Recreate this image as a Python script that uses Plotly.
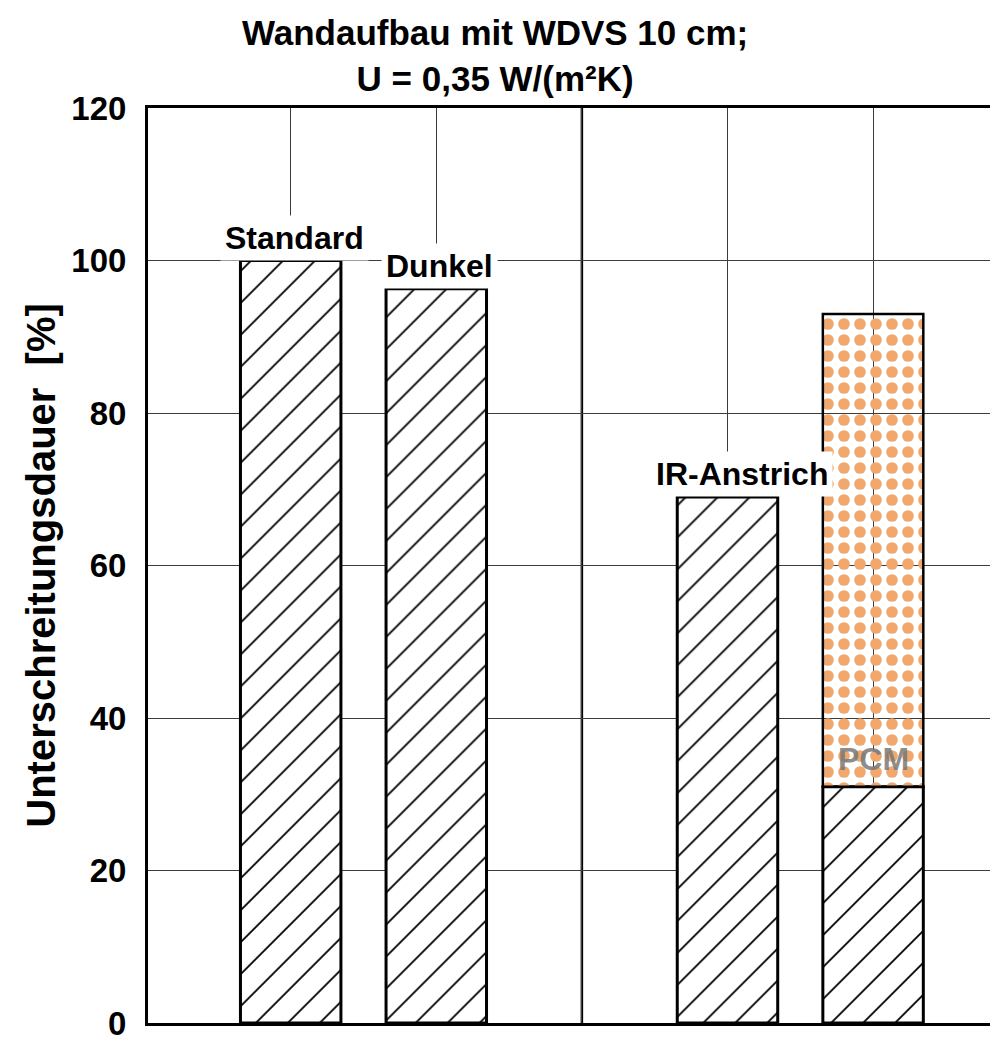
import plotly.graph_objects as go

# Kategorien (die leere Kategorie trennt die beiden Gruppen)
categories = ["Standard", "Dunkel", " ", "IR-Anstrich", "PCM"]
bar_categories = ["Standard", "Dunkel", "IR-Anstrich", "PCM"]
hatched_values = [100, 96.3, 69.0, 31.0]   # schraffierter Anteil [%]
pcm_category = ["PCM"]
pcm_base = [31.0]                          # Beginn des PCM-Anteils [%]
pcm_top = [93.0]                           # Oberkante PCM-Balken [%]
y_ticks = [0, 20, 40, 60, 80, 100, 120]

FONT = "Liberation Sans, Arial, sans-serif"

fig = go.Figure()

# schraffierte Balken
fig.add_trace(go.Bar(
    x=bar_categories,
    y=hatched_values,
    width=0.69,
    marker=dict(
        color="white",
        line=dict(color="black", width=3),
        pattern=dict(shape="/", fgcolor="black", bgcolor="white",
                     size=22.6, solidity=0.08, fillmode="replace"),
    ),
    showlegend=False,
    hoverinfo="skip",
))

# PCM-Anteil (gepunktet) auf dem schraffierten Sockel
fig.add_trace(go.Bar(
    x=pcm_category,
    base=pcm_base,
    y=[t - b for t, b in zip(pcm_top, pcm_base)],
    width=0.69,
    marker=dict(
        color="rgba(255,255,255,0)",
        line=dict(color="black", width=2.5),
        pattern=dict(shape=".", fgcolor="#F0A86E", bgcolor="rgba(255,255,255,0)",
                     size=16, solidity=0.42, fillmode="replace"),
    ),
    showlegend=False,
    hoverinfo="skip",
))

# Balkenbeschriftungen
label_shift = {"Standard": 4, "Dunkel": 3, "IR-Anstrich": 15, "PCM": 0}
for cat, val in zip(bar_categories[:3], hatched_values[:3]):
    fig.add_annotation(
        x=cat, y=val, xref="x", yref="y",
        text="<b>%s</b>" % cat, showarrow=False,
        yanchor="bottom", xanchor="center",
        xshift=label_shift[cat], yshift=0,
        bgcolor="white", borderpad=4,
        font=dict(family=FONT, size=32, color="black"),
    )
fig.add_annotation(
    x=pcm_category[0], y=pcm_base[0], xref="x", yref="y",
    text="<b>PCM</b>", showarrow=False,
    yanchor="bottom", xanchor="center", yshift=8,
    font=dict(family=FONT, size=32, color="rgba(120,120,120,0.85)"),
)

# Trennlinie zwischen den Gruppen
fig.add_shape(
    type="line", xref="x", yref="paper",
    x0=" ", x1=" ", y0=0, y1=1,
    line=dict(color="black", width=2.5), layer="below",
)

# Achsentitel
fig.add_annotation(
    xref="paper", yref="paper", x=-0.128, y=0.50,
    text="<b>Unterschreitungsdauer  [%]</b>", textangle=-90,
    showarrow=False, xanchor="center", yanchor="middle",
    font=dict(family=FONT, size=40, color="black"),
)

# Diagrammtitel
fig.add_annotation(
    xref="paper", yref="paper", x=0.412, y=1.0,
    text="<b>Wandaufbau mit WDVS 10 cm;<br>U = 0,35 W/(m²K)</b>",
    showarrow=False, xanchor="center", yanchor="bottom", yshift=8,
    font=dict(family=FONT, size=35, color="black"),
)

fig.update_layout(
    width=990, height=1042,
    margin=dict(l=148, r=0, t=108, b=10),
    paper_bgcolor="white", plot_bgcolor="white",
    barmode="overlay",
    xaxis=dict(
        type="category", categoryorder="array", categoryarray=categories,
        range=[-0.98, 4.803],
        showticklabels=False, ticks="",
        showgrid=True, gridcolor="#3c3c3c", gridwidth=1,
        showline=True, linecolor="black", linewidth=3, mirror=True,
        zeroline=False,
    ),
    yaxis=dict(
        range=[0, 120], tickvals=y_ticks,
        ticks="", ticklabelstandoff=12, ticklabeloverflow="allow",
        tickfont=dict(family=FONT, size=33, color="black", weight="bold"),
        showgrid=True, gridcolor="#3c3c3c", gridwidth=1,
        showline=True, linecolor="black", linewidth=3, mirror=False,
        zeroline=False,
    ),
)

fig.write_html("out.html")
